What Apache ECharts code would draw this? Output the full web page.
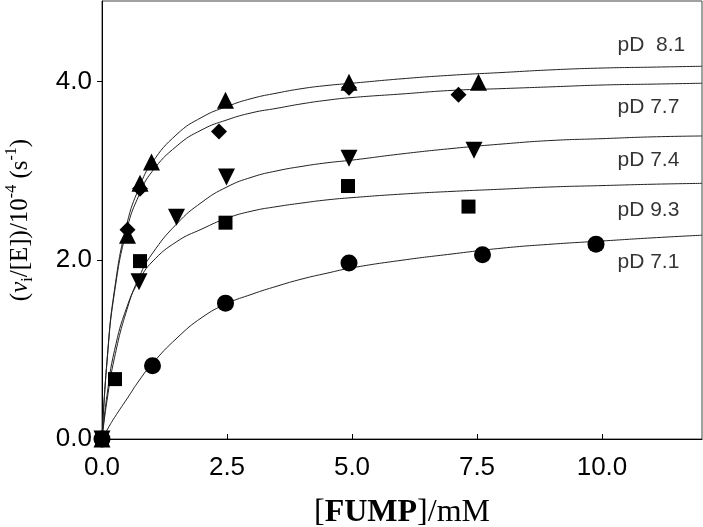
<!DOCTYPE html>
<html>
<head>
<meta charset="utf-8">
<script src="https://cdn.jsdelivr.net/npm/echarts@6/dist/echarts.min.js"></script>
<style>html,body{margin:0;padding:0;background:#fff}#c{width:703px;height:527px}</style>
</head>
<body>
<div id="c"></div>
<script>
// ---- data ----
var xTicks = [0, 2.5, 5, 7.5, 10];
var yTicks = [0, 2, 4];

// measured points [FUMP mM, v/[E]]
var pts81 = [[0,0],[0.51,2.28],[0.76,2.86],[0.99,3.10],[2.47,3.79],[4.94,3.99],[7.53,3.99]];
var pts77 = [[0,0],[0.51,2.34],[0.76,2.80],[2.34,3.44],[4.94,3.93],[7.13,3.85]];
var pts74 = [[0,0],[0.74,1.76],[1.49,2.48],[2.49,2.93],[4.94,3.14],[7.44,3.23]];
var pts93 = [[0,0],[0.26,0.67],[0.76,1.99],[2.47,2.42],[4.92,2.83],[7.33,2.60]];
var pts71 = [[0,0],[1.01,0.82],[2.47,1.52],[4.94,1.97],[7.61,2.06],[9.88,2.18]];

// fitted curves read at these x values
var curveX   = [0, 0.1, 0.25, 0.5, 0.75, 1, 1.5, 2, 2.5, 3, 3.5, 4, 4.5, 5, 6, 7, 8, 9, 10, 11, 12];
var curve81  = [0, 0.87, 1.67, 2.41, 2.82, 3.09, 3.41, 3.60, 3.72, 3.81, 3.87, 3.92, 3.955, 3.98, 4.03, 4.07, 4.10, 4.13, 4.15, 4.16, 4.17];
var curve77  = [0, 0.87, 1.64, 2.35, 2.74, 2.99, 3.28, 3.46, 3.57, 3.65, 3.70, 3.75, 3.79, 3.82, 3.86, 3.90, 3.92, 3.94, 3.96, 3.97, 3.98];
var curve74  = [0, 0.43, 0.91, 1.45, 1.82, 2.07, 2.41, 2.65, 2.82, 2.93, 3.00, 3.05, 3.09, 3.12, 3.19, 3.25, 3.30, 3.34, 3.36, 3.38, 3.39];
var curve93  = [0, 0.49, 0.99, 1.48, 1.78, 1.98, 2.21, 2.35, 2.47, 2.55, 2.60, 2.64, 2.675, 2.70, 2.74, 2.77, 2.795, 2.82, 2.835, 2.85, 2.86];
var curve71  = [0, 0.10, 0.24, 0.45, 0.66, 0.84, 1.13, 1.36, 1.515, 1.62, 1.71, 1.79, 1.855, 1.915, 2.00, 2.07, 2.135, 2.18, 2.215, 2.25, 2.28];

var seriesNames = ['pD  8.1', 'pD 7.7', 'pD 7.4', 'pD 9.3', 'pD 7.1'];
var labelX = [10.3, 10.3, 10.3, 10.3, 10.3];
var labelY = [4.40, 3.715, 3.117, 2.559, 1.983];

// ---- chart ----
function zip(xs, ys) { return xs.map(function (x, i) { return [x, ys[i]]; }); }

var curves = [curve81, curve77, curve74, curve93, curve71];
var points = [pts81, pts77, pts74, pts93, pts71];
var symbols = ['triangle', 'diamond', 'triangle', 'rect', 'circle'];
var symSizes = [17, 16, 17, 14, 17];
var symRot = [0, 0, 180, 0, 0];

var series = [];
curves.forEach(function (c, i) {
  series.push({
    type: 'line', data: zip(curveX, c), smooth: true, showSymbol: false, silent: true,
    lineStyle: { color: '#222', width: 1 }, z: 2
  });
});
points.forEach(function (p, i) {
  series.push({
    type: 'scatter', name: seriesNames[i], data: p, symbol: symbols[i],
    symbolSize: symSizes[i], symbolRotate: symRot[i],
    itemStyle: { color: '#000', opacity: 1 }, z: 3
  });
});
series.push({
  type: 'scatter', silent: true, symbolSize: 1,
  itemStyle: { color: 'rgba(0,0,0,0)' },
  data: seriesNames.map(function (n, i) { return { value: [labelX[i], labelY[i]], name: n }; }),
  label: {
    show: true, position: 'right', distance: 0, formatter: '{b}',
    color: '#000', fontFamily: 'Liberation Sans, Arial, sans-serif', fontSize: 21
  }
});

var chart = echarts.init(document.getElementById('c'), null, { renderer: 'canvas' });
chart.setOption({
  animation: false,
  backgroundColor: '#fff',
  grid: { left: 102, right: 1, top: 1, bottom: 88, show: true, borderColor: '#444', borderWidth: 1,
    backgroundColor: 'transparent', containLabel: false, outerBoundsMode: 'none' },
  xAxis: {
    type: 'value', min: 0, max: 12, interval: 2.5,
    axisLine: { show: true, lineStyle: { color: '#000', width: 1 } },
    axisTick: { show: true, inside: true, length: 5, customValues: xTicks, lineStyle: { color: '#000' } },
    axisLabel: { customValues: xTicks, margin: 16, color: '#000', fontSize: 26, fontFamily: 'Liberation Sans, Arial, sans-serif',
      formatter: function (v) { return v.toFixed(1); } },
    splitLine: { show: false },
    name: '[{b|FUMP}]/mM', nameLocation: 'middle', nameGap: 58,
    nameTextStyle: { fontFamily: 'Liberation Serif, Times New Roman, serif', fontSize: 32, color: '#000',
      rich: { b: { fontFamily: 'Liberation Serif, Times New Roman, serif', fontSize: 32, fontWeight: 'bold', color: '#000' } } }
  },
  yAxis: {
    type: 'value', min: 0, max: 4.9, interval: 2,
    axisLine: { show: true, lineStyle: { color: '#000', width: 1 } },
    axisTick: { show: true, inside: false, length: 5, customValues: yTicks, lineStyle: { color: '#000' } },
    axisLabel: { customValues: yTicks, margin: 10, color: '#000', fontSize: 26, fontFamily: 'Liberation Sans, Arial, sans-serif',
      formatter: function (v) { return v.toFixed(1); } },
    splitLine: { show: false },
    name: '{p|(}{v|v}{sub|i}{p|/[E])/10}{sup|-4}{p| (s}{sup|-1}{p|)}',
    nameLocation: 'middle', nameRotate: 90, nameGap: 66,
    nameTextStyle: {
      fontFamily: 'Liberation Serif, Times New Roman, serif', fontSize: 25, color: '#000',
      rich: {
        p: { fontFamily: 'Liberation Serif, serif', fontSize: 25, color: '#000', lineHeight: 32 },
        v: { fontFamily: 'Liberation Serif, serif', fontStyle: 'italic', fontSize: 25, color: '#000', lineHeight: 32 },
        sub: { fontFamily: 'Liberation Serif, serif', fontSize: 16, color: '#000', verticalAlign: 'bottom', lineHeight: 32 },
        sup: { fontFamily: 'Liberation Serif, serif', fontSize: 16, color: '#000', verticalAlign: 'top', lineHeight: 32 }
      }
    }
  },
  series: series
});
</script>
</body>
</html>
